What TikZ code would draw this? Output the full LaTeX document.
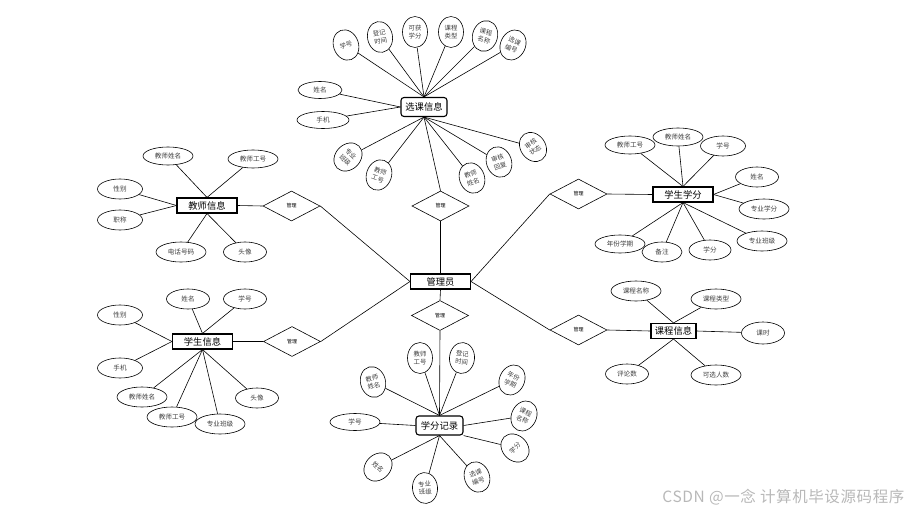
\documentclass[tikz,border=0pt]{standalone}
\usepackage{fontspec}
\newfontfamily\cjk{Noto Sans CJK SC}
\newfontfamily\wmfont[LetterSpace=4]{Noto Sans CJK SC}
\usetikzlibrary{shapes.geometric}
\tikzset{
  attr/.style={ellipse, draw, line width=0.6pt, fill=white, inner sep=0pt,
    minimum width=#1, minimum height=19pt, text=black!75,
    font=\cjk\fontsize{6.6}{7}\selectfont},
  attr/.default=46pt,
  sattr/.style={ellipse, draw, line width=0.6pt, fill=white, inner sep=0pt,
    minimum width=25pt, minimum height=31pt, align=center, text=black!75,
    font=\cjk\fontsize{6.4}{8}\selectfont},
  entity/.style={rectangle, draw, line width=1.1pt, fill=white, inner sep=0pt,
    minimum width=#1, minimum height=15pt, font=\cjk\fontsize{9.3}{10}\selectfont},
  entity/.default=60pt,
  rentity/.style={entity=#1, minimum height=19pt, rounded corners=3pt},
  rel/.style={diamond, draw, line width=0.6pt, fill=white, inner sep=0pt,
    minimum width=57pt, minimum height=30pt, font=\cjk\fontsize{5}{6}\selectfont},
  link/.style={line width=0.6pt},
  wm/.style={text=black!28, font=\wmfont\fontsize{15.5}{17}\selectfont}
}
\begin{document}
\begin{tikzpicture}[x=1pt,y=-1pt]
\useasboundingbox (0,0) rectangle (911,514);

% central
\node[entity] (adm) at (440.5,281.5) {管理员};
\node[rel] (dt) at (440.5,206) {管理};
\node[rel] (db) at (440,315.5) {管理};
\node[rel] (d1) at (291.5,206) {管理};
\node[rel] (d2) at (292,341.5) {管理};
\node[rel] (d3) at (578.5,194) {管理};
\node[rel] (d4) at (578.5,330) {管理};

% entities
\node[rentity=46pt] (xk) at (424,107) {选课信息};
\node[entity] (js) at (207,205.5) {教师信息};
\node[entity] (xf) at (683,194.5) {学生学分};
\node[entity] (xs) at (202.5,341.5) {学生信息};
\node[rentity=47pt] (jl) at (439.5,425.5) {学分记录};
\node[entity=45pt] (kc) at (673.5,331) {课程信息};

% 选课信息 attributes
\node[sattr, rotate=20] (xk1) at (346,45) {学号};
\node[sattr, rotate=10] (xk2) at (380,37) {登记\\时间};
\node[sattr] (xk3) at (415,32) {可获\\学分};
\node[sattr] (xk4) at (451,32) {课程\\类型};
\node[sattr, rotate=-15] (xk5) at (485,36) {课程\\名称};
\node[sattr, rotate=-25] (xk6) at (513,45) {选课\\编号};
\node[attr=44pt, minimum height=17pt] (xk7) at (320,90) {姓名};
\node[attr=52pt, minimum height=17pt] (xk8) at (323,120) {手机};
\node[sattr, rotate=-45] (xk9) at (348,157) {专业\\班级};
\node[sattr, rotate=-20] (xk10) at (379,175) {教师\\工号};
\node[sattr, rotate=20] (xk11) at (472,178) {教师\\姓名};
\node[sattr, rotate=20] (xk12) at (499,162) {审核\\回复};
\node[sattr, rotate=35] (xk13) at (533,147) {审核\\状态};

% 教师信息 attributes
\node[attr=50pt, minimum height=18pt] (js1) at (168,156) {教师姓名};
\node[attr=50pt, minimum height=18pt] (js2) at (253,159) {教师工号};
\node[attr=45pt, minimum height=20pt] (js3) at (120,189) {性别};
\node[attr=45pt, minimum height=20pt] (js4) at (120,220) {职称};
\node[attr=50pt, minimum height=20pt] (js5) at (181,252) {电话号码};
\node[attr=43pt, minimum height=20pt] (js6) at (245,252) {头像};

% 学生学分 attributes
\node[attr=50pt, minimum height=18pt] (xf1) at (630,145) {教师工号};
\node[attr=50pt, minimum height=18pt] (xf2) at (678,137) {教师姓名};
\node[attr=45pt, minimum height=20pt] (xf3) at (723,146) {学号};
\node[attr=43pt, minimum height=20pt] (xf4) at (757,177) {姓名};
\node[attr=50pt, minimum height=20pt] (xf5) at (764,209) {专业学分};
\node[attr=50pt, minimum height=18pt] (xf6) at (620,244) {年份学期};
\node[attr=40pt, minimum height=20pt] (xf7) at (662,252) {备注};
\node[attr=42pt, minimum height=20pt] (xf8) at (710,250) {学分};
\node[attr=50pt, minimum height=20pt] (xf9) at (762,241) {专业班级};

% 学生信息 attributes
\node[attr=43pt, minimum height=20pt] (xs1) at (188,299) {姓名};
\node[attr=43pt, minimum height=20pt] (xs2) at (245,299) {学号};
\node[attr=45pt, minimum height=20pt] (xs3) at (120,315) {性别};
\node[attr=45pt, minimum height=20pt] (xs4) at (120,368) {手机};
\node[attr=50pt, minimum height=20pt] (xs5) at (142,397) {教师姓名};
\node[attr=50pt, minimum height=20pt] (xs6) at (172,417) {教师工号};
\node[attr=43pt, minimum height=20pt] (xs8) at (257,398) {头像};
\node[attr=50pt, minimum height=20pt] (xs7) at (220,424) {专业班级};

% 学分记录 attributes
\node[sattr, rotate=15] (jl1) at (373,382) {教师\\姓名};
\node[sattr] (jl2) at (420,358) {教师\\工号};
\node[sattr, rotate=-5] (jl3) at (462,358) {登记\\时间};
\node[sattr, rotate=-25] (jl4) at (512,380) {年份\\学期};
\node[sattr, rotate=-25] (jl5) at (524,416) {课程\\名称};
\node[sattr, rotate=45] (jl6) at (515,448) {学分};
\node[sattr, rotate=20] (jl7) at (477,477) {选课\\编号};
\node[sattr, rotate=5] (jl8) at (425,488) {专业\\班级};
\node[sattr, rotate=-45] (jl9) at (378,467) {姓名};
\node[attr=50pt, minimum height=17pt] (jl10) at (355,422) {学号};

% 课程信息 attributes
\node[attr=50pt, minimum height=20pt] (kc1) at (636,291) {课程名称};
\node[attr=50pt, minimum height=20pt] (kc2) at (716,299) {课程类型};
\node[attr=43pt, minimum height=22pt] (kc3) at (763,333) {课时};
\node[attr=43pt, minimum height=20pt] (kc4) at (627,374) {评论数};
\node[attr=50pt, minimum height=20pt] (kc5) at (716,375) {可选人数};

% connectors
\begin{scope}[link]
\draw (xk.south) -- (dt.north);
\draw (dt.south) -- (adm.north);
\draw (adm.south) -- (db.north);
\draw (db.south) -- (jl.north);
\draw (js.east) -- (d1.west);
\draw (d1.east) -- (adm.west);
\draw (xs.east) -- (d2.west);
\draw (d2.east) -- (adm.west);
\draw (d3.west) -- (adm.east);
\draw (d3.east) -- (xf.west);
\draw (d4.west) -- (adm.east);
\draw (d4.east) -- (kc.west);

\foreach \n in {xk1,xk2,xk3,xk4,xk5,xk6} \draw (\n) -- (xk.north);
\foreach \n in {xk7,xk8} \draw (\n) -- (xk.west);
\foreach \n in {xk9,xk10,xk11,xk12,xk13} \draw (\n) -- (xk.south);

\foreach \n in {js1,js2} \draw (\n) -- (js.north);
\foreach \n in {js3,js4} \draw (\n) -- (js.west);
\foreach \n in {js5,js6} \draw (\n) -- (js.south);

\foreach \n in {xf1,xf2,xf3} \draw (\n) -- (xf.north);
\foreach \n in {xf4,xf5} \draw (\n) -- (xf.east);
\foreach \n in {xf6,xf7,xf8,xf9} \draw (\n) -- (xf.south);

\foreach \n in {xs1,xs2} \draw (\n) -- (xs.north);
\foreach \n in {xs3,xs4} \draw (\n) -- (xs.west);
\foreach \n in {xs5,xs6,xs7,xs8} \draw (\n) -- (xs.south);

\foreach \n in {jl1,jl2,jl3,jl4} \draw (\n) -- (jl.north);
\draw (jl5) -- (jl.east);
\draw (jl6) -- (jl.south east);
\foreach \n in {jl7,jl8,jl9} \draw (\n) -- (jl.south);
\draw (jl10) -- (jl.west);

\foreach \n in {kc1,kc2} \draw (\n) -- (kc.north);
\draw (kc3) -- (kc.east);
\foreach \n in {kc4,kc5} \draw (\n) -- (kc.south);
\end{scope}

\node[wm, anchor=east] (wmark) at (908,497) {CSDN @一念 计算机毕设源码程序};
\end{tikzpicture}
\end{document}
